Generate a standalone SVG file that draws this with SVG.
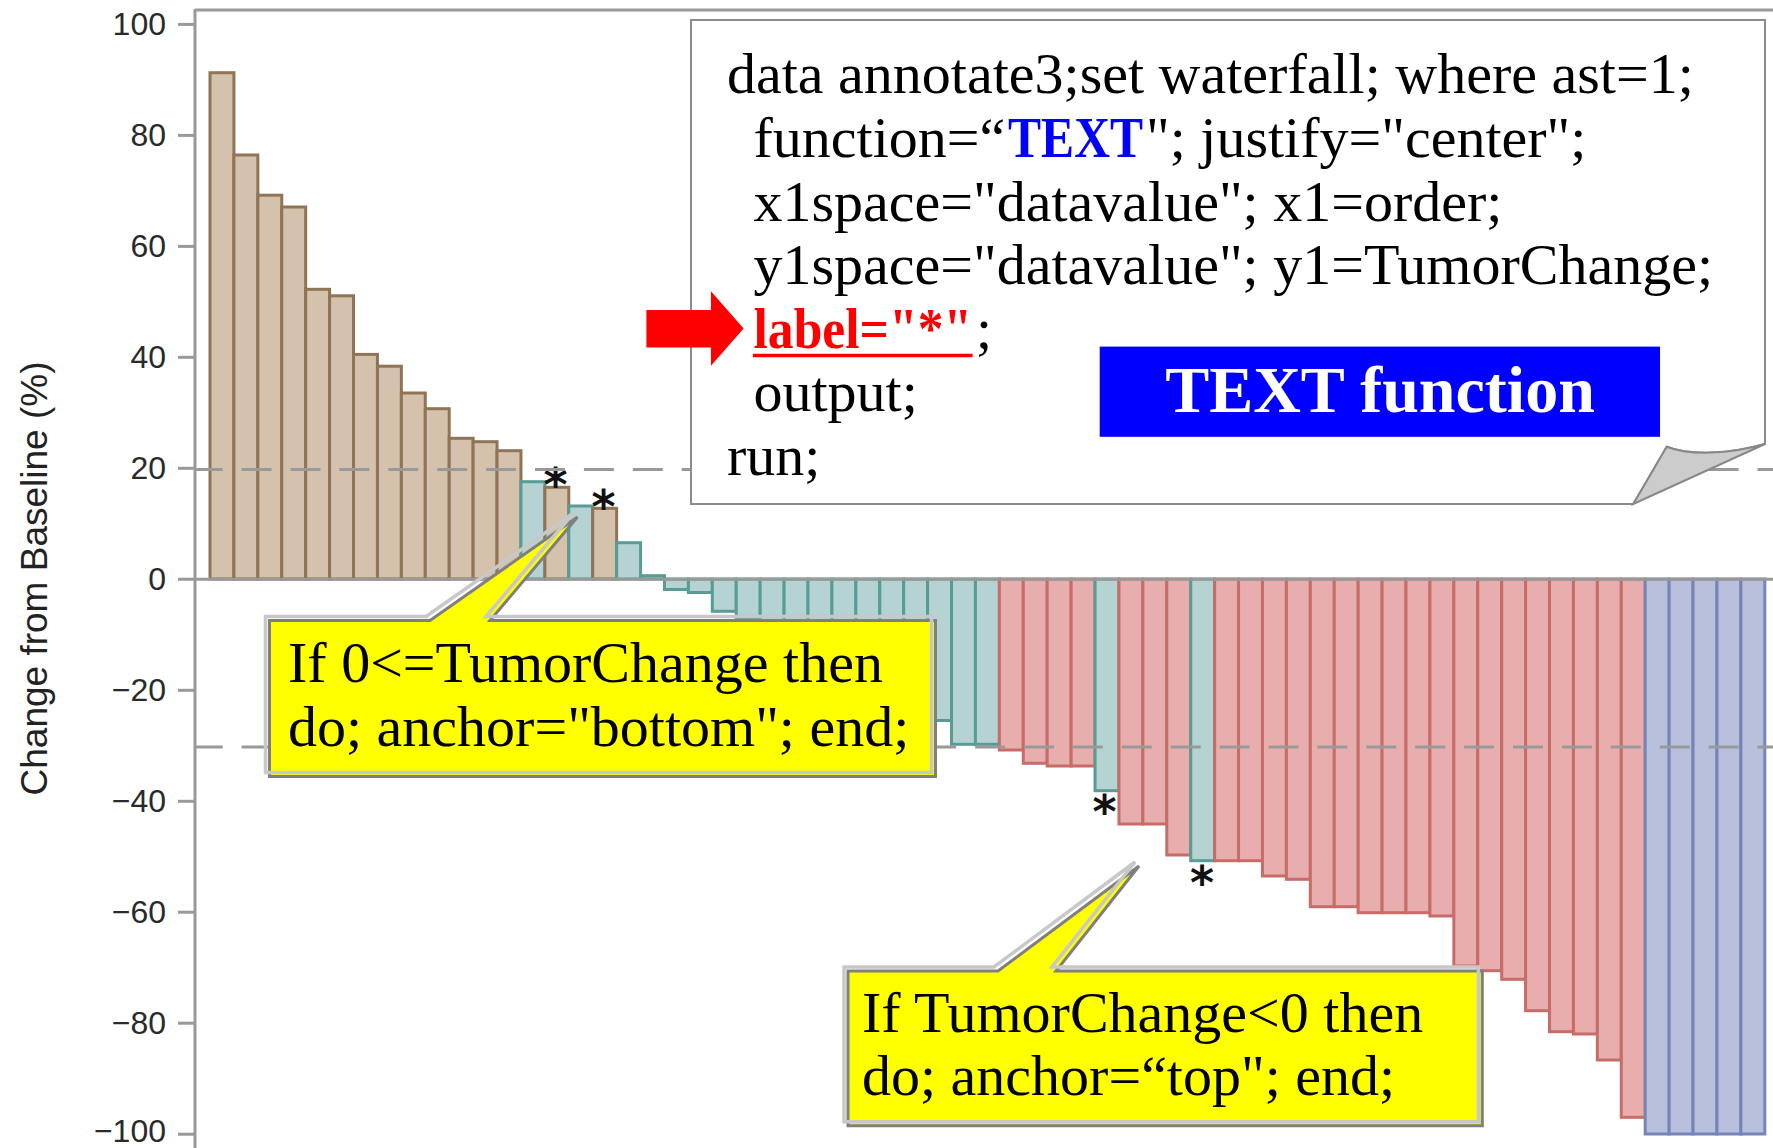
<svg xmlns="http://www.w3.org/2000/svg" width="1773" height="1148" viewBox="0 0 1773 1148">
<style>
.tan{fill:#D4C2AC;stroke:#8F7455;stroke-width:3}
.teal{fill:#B4D3D2;stroke:#589C95;stroke-width:3}
.red{fill:#E8AEAE;stroke:#C76C67;stroke-width:3}
.blue{fill:#B8C0DB;stroke:#7685B8;stroke-width:3}
.axis{stroke:#999;stroke-width:3;fill:none}
.ref{stroke:#999;stroke-width:3;stroke-dasharray:30 18.9;stroke-dashoffset:2.3;fill:none}
.tick{font-family:'Liberation Sans',Arial,sans-serif;font-size:32px;fill:#2a2a2a;text-anchor:end}
.ast{font-family:'DejaVu Sans',sans-serif;font-size:46px;font-weight:bold;fill:#111;text-anchor:middle}
.code{font-family:'Liberation Serif','Times New Roman',serif;font-size:58px;fill:#000}
.kw{font-family:'Liberation Serif','Times New Roman',serif;font-size:58px;font-weight:bold;fill:#0000FF}
.lbl{font-family:'Liberation Serif','Times New Roman',serif;font-size:58px;font-weight:bold;fill:#FF0000}
.cdark{fill:#FFFF00;stroke:#7F7F7F;stroke-width:3}
.clight{fill:none;stroke:#C8C8C8;stroke-width:3.5}
</style>
<rect width="1773" height="1148" fill="#fff"/>
<g id="bars">
<rect class="tan" x="210" y="72.7" width="23.92" height="506.3"/>
<rect class="tan" x="233.92" y="155" width="23.92" height="424"/>
<rect class="tan" x="257.84" y="195.2" width="23.92" height="383.8"/>
<rect class="tan" x="281.76" y="207" width="23.92" height="372"/>
<rect class="tan" x="305.68" y="289.3" width="23.92" height="289.7"/>
<rect class="tan" x="329.6" y="295.8" width="23.92" height="283.2"/>
<rect class="tan" x="353.52" y="354.4" width="23.92" height="224.6"/>
<rect class="tan" x="377.44" y="366.2" width="23.92" height="212.8"/>
<rect class="tan" x="401.36" y="393" width="23.92" height="186"/>
<rect class="tan" x="425.28" y="408.7" width="23.92" height="170.3"/>
<rect class="tan" x="449.2" y="438.3" width="23.92" height="140.7"/>
<rect class="tan" x="473.12" y="441.7" width="23.92" height="137.3"/>
<rect class="tan" x="497.04" y="450.7" width="23.92" height="128.3"/>
<rect class="teal" x="520.96" y="481.7" width="23.92" height="97.3"/>
<rect class="tan" x="544.88" y="487.3" width="23.92" height="91.7"/>
<rect class="teal" x="568.8" y="506" width="23.92" height="73"/>
<rect class="tan" x="592.72" y="508.3" width="23.92" height="70.7"/>
<rect class="teal" x="616.64" y="542.7" width="23.92" height="36.3"/>
<rect class="teal" x="640.56" y="575.7" width="23.92" height="3.3"/>
<rect class="teal" x="664.48" y="579" width="23.92" height="10.5"/>
<rect class="teal" x="688.4" y="579" width="23.92" height="13.5"/>
<rect class="teal" x="712.32" y="579" width="23.92" height="32.3"/>
<rect class="teal" x="736.24" y="579" width="23.92" height="39"/>
<rect class="teal" x="760.16" y="579" width="23.92" height="47"/>
<rect class="teal" x="784.08" y="579" width="23.92" height="56"/>
<rect class="teal" x="808" y="579" width="23.92" height="67"/>
<rect class="teal" x="831.92" y="579" width="23.92" height="78"/>
<rect class="teal" x="855.84" y="579" width="23.92" height="92"/>
<rect class="teal" x="879.76" y="579" width="23.92" height="105"/>
<rect class="teal" x="903.68" y="579" width="23.92" height="122"/>
<rect class="teal" x="927.6" y="579" width="23.92" height="141.5"/>
<rect class="teal" x="951.52" y="579" width="23.92" height="165.3"/>
<rect class="teal" x="975.44" y="579" width="23.92" height="165.3"/>
<rect class="red" x="999.36" y="579" width="23.92" height="171"/>
<rect class="red" x="1023.28" y="579" width="23.92" height="184.3"/>
<rect class="red" x="1047.2" y="579" width="23.92" height="187"/>
<rect class="red" x="1071.12" y="579" width="23.92" height="187"/>
<rect class="teal" x="1095.04" y="579" width="23.92" height="211.7"/>
<rect class="red" x="1118.96" y="579" width="23.92" height="245"/>
<rect class="red" x="1142.88" y="579" width="23.92" height="245"/>
<rect class="red" x="1166.8" y="579" width="23.92" height="276"/>
<rect class="teal" x="1190.72" y="579" width="23.92" height="281.7"/>
<rect class="red" x="1214.64" y="579" width="23.92" height="281.7"/>
<rect class="red" x="1238.56" y="579" width="23.92" height="281.7"/>
<rect class="red" x="1262.48" y="579" width="23.92" height="297"/>
<rect class="red" x="1286.4" y="579" width="23.92" height="300.3"/>
<rect class="red" x="1310.32" y="579" width="23.92" height="327.7"/>
<rect class="red" x="1334.24" y="579" width="23.92" height="327.7"/>
<rect class="red" x="1358.16" y="579" width="23.92" height="333.7"/>
<rect class="red" x="1382.08" y="579" width="23.92" height="333.7"/>
<rect class="red" x="1406" y="579" width="23.92" height="333.7"/>
<rect class="red" x="1429.92" y="579" width="23.92" height="337"/>
<rect class="red" x="1453.84" y="579" width="23.92" height="387"/>
<rect class="red" x="1477.76" y="579" width="23.92" height="391.7"/>
<rect class="red" x="1501.68" y="579" width="23.92" height="400.3"/>
<rect class="red" x="1525.6" y="579" width="23.92" height="431.7"/>
<rect class="red" x="1549.52" y="579" width="23.92" height="452.7"/>
<rect class="red" x="1573.44" y="579" width="23.92" height="455"/>
<rect class="red" x="1597.36" y="579" width="23.92" height="481"/>
<rect class="red" x="1621.28" y="579" width="23.92" height="538.3"/>
<rect class="blue" x="1645.2" y="579" width="23.92" height="555"/>
<rect class="blue" x="1669.12" y="579" width="23.92" height="555"/>
<rect class="blue" x="1693.04" y="579" width="23.92" height="555"/>
<rect class="blue" x="1716.96" y="579" width="23.92" height="555"/>
<rect class="blue" x="1740.88" y="579" width="23.92" height="555"/>
</g>
<g id="asterisks">
<text class="ast" x="555.5" y="501">*</text>
<text class="ast" x="603.5" y="522.7">*</text>
<text class="ast" x="1104.5" y="827.7">*</text>
<text class="ast" x="1202" y="898.7">*</text>
</g>
<g id="axes">
<line class="axis" x1="195" y1="9" x2="195" y2="1148"/>
<line class="axis" x1="195" y1="10" x2="1773" y2="10"/>
<line class="axis" x1="178" y1="579.3" x2="1773" y2="579.3"/>
<line class="ref" x1="195" y1="469.5" x2="1773" y2="469.5"/>
<line class="ref" x1="195" y1="747" x2="1773" y2="747"/>
<g class="axis">
<line x1="178" y1="24.4" x2="195" y2="24.4"/>
<line x1="178" y1="135.4" x2="195" y2="135.4"/>
<line x1="178" y1="246.4" x2="195" y2="246.4"/>
<line x1="178" y1="357.3" x2="195" y2="357.3"/>
<line x1="178" y1="468.3" x2="195" y2="468.3"/>
<line x1="178" y1="690.3" x2="195" y2="690.3"/>
<line x1="178" y1="801.3" x2="195" y2="801.3"/>
<line x1="178" y1="912.2" x2="195" y2="912.2"/>
<line x1="178" y1="1023.2" x2="195" y2="1023.2"/>
<line x1="178" y1="1134.2" x2="195" y2="1134.2"/>
</g>
<text class="tick" x="166" y="35.4">100</text>
<text class="tick" x="166" y="146.4">80</text>
<text class="tick" x="166" y="257.4">60</text>
<text class="tick" x="166" y="368.3">40</text>
<text class="tick" x="166" y="479.3">20</text>
<text class="tick" x="166" y="590.3">0</text>
<text class="tick" x="166" y="701.3">−20</text>
<text class="tick" x="166" y="812.3">−40</text>
<text class="tick" x="166" y="923.2">−60</text>
<text class="tick" x="166" y="1034.2">−80</text>
<text class="tick" x="166" y="1141.5">−100</text>
<text x="47" y="578.5" transform="rotate(-90 47 578.5)" font-family="'Liberation Sans',Arial,sans-serif" font-size="37" fill="#222" text-anchor="middle">Change from Baseline (%)</text>
</g>
<g id="code-box">
<path d="M691,20 H1765 V444 C1730,454 1690,456 1666.7,446.7 L1633.3,504 H691 Z" fill="#fff" stroke="#8c8c8c" stroke-width="2"/>
<path d="M1666.7,446.7 C1690,456 1730,454 1765,444 L1633.3,504 Z" fill="#cccccc" stroke="#888" stroke-width="2"/>
<text class="code" x="727" y="93.3">data annotate3;set waterfall; where ast=1;</text>
<text class="code" x="753.5" y="157">function=“</text>
<text class="kw" transform="translate(1008,157) scale(0.855,1)" x="0" y="0">TEXT</text>
<text class="code" x="1146" y="157">"; justify="center";</text>
<text class="code" x="753.5" y="220.6">x1space="datavalue"; x1=order;</text>
<text class="code" x="753.5" y="284.2">y1space="datavalue"; y1=TumorChange;</text>
<text class="lbl" transform="translate(753.5,347.8) scale(0.89,1)" x="0" y="0">label="*"</text>
<line x1="753" y1="355.5" x2="972.6" y2="355.5" stroke="#FF0000" stroke-width="3.5"/>
<text class="code" x="976" y="347.8">;</text>
<text class="code" x="753.5" y="411.4">output;</text>
<text class="code" x="727" y="475">run;</text>
</g>
<g id="text-function-label">
<rect x="1099.7" y="346.6" width="560.3" height="90.2" fill="#0000FF"/>
<text x="1380" y="412" font-family="'Liberation Serif','Times New Roman',serif" font-size="66" font-weight="bold" fill="#fff" text-anchor="middle">TEXT function</text>
</g>
<g id="callout-positive">
<path class="cdark" d="M269.5,620.5 H430 L577.5,517 L490,620.5 H935.5 V776.5 H269.5 Z"/>
<path class="clight" transform="translate(-4,-4)" d="M269.5,620.5 H430 L577.5,517 L490,620.5 H935.5 V776.5 H269.5 Z"/>
<text class="code" x="288" y="682">If 0&lt;=TumorChange then</text>
<text class="code" x="288" y="746">do; anchor="bottom"; end;</text>
</g>
<g id="callout-negative">
<path class="cdark" d="M848,971 H998 L1139,866 L1056,971 H1482.3 V1125.7 H848 Z"/>
<path class="clight" transform="translate(-4,-4)" d="M848,971 H998 L1139,866 L1056,971 H1482.3 V1125.7 H848 Z"/>
<text class="code" x="862" y="1032">If TumorChange&lt;0 then</text>
<text class="code" x="862" y="1095">do; anchor=“top"; end;</text>
</g>
<g id="connectors">
<path d="M646.4,310 H711 V291.2 L743.6,328.6 L711,365.8 V347.6 H646.4 Z" fill="#FF0000"/>
</g>
</svg>
